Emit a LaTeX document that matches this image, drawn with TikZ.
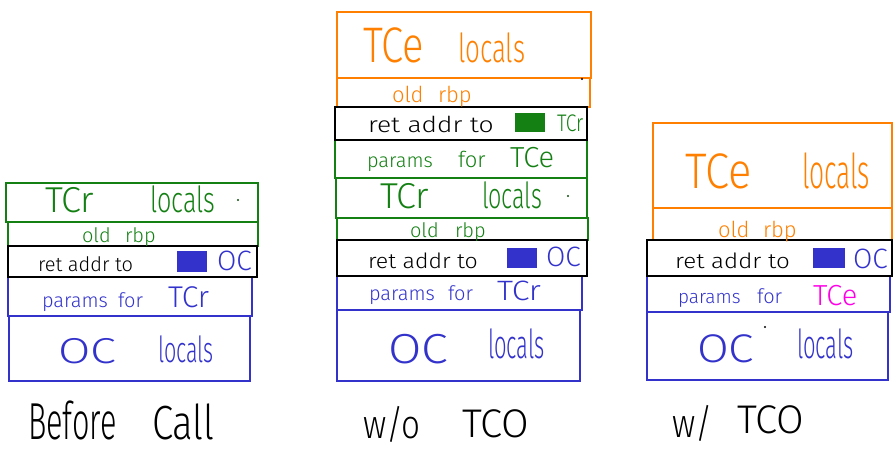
\documentclass[tikz,border=0pt]{standalone}
\usepackage{fontspec}
\IfFontExistsTF{Fira Sans Light}{\setmainfont{Fira Sans Light}}{\setmainfont{Fira Sans}}
\usetikzlibrary{fit}
\definecolor{grn}{RGB}{20,128,20}
\definecolor{blu}{RGB}{51,51,204}
\definecolor{org}{RGB}{255,128,0}
\definecolor{mag}{RGB}{255,0,230}
\newcommand{\hsz}[1]{\fontsize{#1}{#1}\selectfont}
\begin{document}
\begin{tikzpicture}[x=1pt,y=-1pt,
  box/.style={draw, line width=1.6pt, inner sep=0pt, outer sep=0pt, rectangle},
  wd/.style={inner sep=0pt, outer sep=0pt, anchor=base west},
  sq/.style={fill, rectangle, inner sep=0pt, outer sep=0pt},
  dotmark/.style={fill, circle, inner sep=0pt, minimum size=2.2pt}]
\useasboundingbox (0,0) rectangle (896,453);

% ---------- Stack 1: Before Call ----------
\node[box,draw=grn,fit={(6,183)(258,222)}] (a1) {};
\node[box,draw=grn,fit={(8,222)(258,246)}] (a2) {};
\node[box,draw=blu,fit={(8,277)(252,316)}] (a4) {};
\node[box,draw=blu,fit={(9,316)(250,381)}] (a5) {};
\node[box,draw=black,fit={(8,246)(257,277)}] (a3) {};

\node[wd,grn,font=\hsz{36}] (a1t1) at (45,212) {TCr};
\node[wd,grn,font=\hsz{36},xscale=0.7] (a1t2) at (150,212) {locals};
\node[dotmark,fill=grn!60!black] (a1d) at (238,200) {};
\node[wd,grn,font=\hsz{20}] (a2t1) at (82,242) {old};
\node[wd,grn,font=\hsz{20}] (a2t2) at (125,242) {rbp};
\node[wd,black,font=\hsz{20}] (a3t1) at (38,271) {ret addr to};
\node[sq,fill=blu,fit={(177,251)(207,272)}] (a3s) {};
\node[wd,blu,font=\hsz{28}] (a3t2) at (217,270) {OC};
\node[wd,blu,font=\hsz{20}] (a4t1) at (42,307) {params};
\node[wd,blu,font=\hsz{20}] (a4t2) at (118,307) {for};
\node[wd,blu,font=\hsz{30}] (a4t3) at (168,307) {TCr};
\node[wd,blu,font=\hsz{36},xscale=1.3] (a5t1) at (58,363) {OC};
\node[wd,blu,font=\hsz{36},xscale=0.6] (a5t2) at (158,362) {locals};

% ---------- Stack 2: w/o TCO ----------
\node[box,draw=org,fit={(337,12)(591,78)}] (b1) {};
\node[box,draw=org,fit={(337,78)(590,107)}] (b2) {};
\node[box,draw=grn,fit={(335,140)(587,178)}] (b4) {};
\node[box,draw=grn,fit={(336,178)(587,218)}] (b5) {};
\node[box,draw=grn,fit={(337,218)(588,240)}] (b6) {};
\node[box,draw=blu,fit={(337,276)(582,310)}] (b8) {};
\node[box,draw=blu,fit={(337,310)(580,381)}] (b9) {};
\node[box,draw=black,fit={(335,107)(587,140)}] (b3) {};
\node[box,draw=black,fit={(337,240)(587,276)}] (b7) {};

\node[wd,org,font=\hsz{50},xscale=0.8] (b1t1) at (363,62) {TCe};
\node[wd,org,font=\hsz{40},xscale=0.65] (b1t2) at (458,62) {locals};
\node[dotmark,fill=black] (b1d) at (582,79) {};
\node[wd,org,font=\hsz{22}] (b2t1) at (392,102) {old};
\node[wd,org,font=\hsz{22}] (b2t2) at (438,102) {rbp};
\node[wd,black,font=\hsz{22},xscale=1.2] (b3t1) at (368,132) {ret addr to};
\node[sq,fill=grn,fit={(515,113)(545,132)}] (b3s) {};
\node[wd,grn,font=\hsz{24},xscale=0.8] (b3t2) at (557,131) {TCr};
\node[wd,grn,font=\hsz{20}] (b4t1) at (367,167) {params};
\node[wd,grn,font=\hsz{22}] (b4t2) at (458,167) {for};
\node[wd,grn,font=\hsz{29}] (b4t3) at (510,167) {TCe};
\node[wd,grn,font=\hsz{36}] (b5t1) at (380,208) {TCr};
\node[wd,grn,font=\hsz{36},xscale=0.65] (b5t2) at (482,208) {locals};
\node[dotmark,fill=grn!60!black] (b5d) at (568,196) {};
\node[wd,grn,font=\hsz{20}] (b6t1) at (410,237) {old};
\node[wd,grn,font=\hsz{20}] (b6t2) at (455,237) {rbp};
\node[wd,black,font=\hsz{21},xscale=1.1] (b7t1) at (368,268) {ret addr to};
\node[sq,fill=blu,fit={(507,248)(537,268)}] (b7s) {};
\node[wd,blu,font=\hsz{28}] (b7t2) at (546,266) {OC};
\node[wd,blu,font=\hsz{20}] (b8t1) at (369,300) {params};
\node[wd,blu,font=\hsz{20}] (b8t2) at (448,300) {for};
\node[wd,blu,font=\hsz{28},xscale=1.15] (b8t3) at (497,300) {TCr};
\node[wd,blu,font=\hsz{42},xscale=1.15] (b9t1) at (388,363) {OC};
\node[wd,blu,font=\hsz{40},xscale=0.55] (b9t2) at (488,358) {locals};

% ---------- Stack 3: w/ TCO ----------
\node[box,draw=org,fit={(653,123)(892,208)}] (c1) {};
\node[box,draw=org,fit={(653,208)(892,240)}] (c2) {};
\node[box,draw=blu,fit={(647,276)(890,312)}] (c4) {};
\node[box,draw=blu,fit={(647,312)(888,380)}] (c5) {};
\node[box,draw=black,fit={(647,240)(892,276)}] (c3) {};

\node[wd,org,font=\hsz{50},xscale=0.87] (c1t1) at (685,188) {TCe};
\node[wd,org,font=\hsz{48},xscale=0.55] (c1t2) at (802,188) {locals};
\node[wd,org,font=\hsz{22}] (c2t1) at (718,237) {old};
\node[wd,org,font=\hsz{22}] (c2t2) at (763,237) {rbp};
\node[wd,black,font=\hsz{21},xscale=1.15] (c3t1) at (675,268) {ret addr to};
\node[sq,fill=blu,fit={(813,248)(845,268)}] (c3s) {};
\node[wd,blu,font=\hsz{28}] (c3t2) at (853,268) {OC};
\node[wd,blu,font=\hsz{19}] (c4t1) at (678,303) {params};
\node[wd,blu,font=\hsz{20}] (c4t2) at (757,303) {for};
\node[wd,mag,font=\hsz{29}] (c4t3) at (813,305) {TCe};
\node[dotmark,fill=black] (c5d) at (765,327) {};
\node[wd,blu,font=\hsz{40},xscale=1.15] (c5t1) at (697,362) {OC};
\node[wd,blu,font=\hsz{40},xscale=0.55] (c5t2) at (797,358) {locals};

% ---------- captions ----------
\node[wd,black,font=\hsz{52},xscale=0.59] (l1a) at (28,439) {Before};
\node[wd,black,font=\hsz{48},xscale=0.8] (l1b) at (152,439) {Call};
\node[wd,black,font=\hsz{40},xscale=0.83] (l2a) at (363,438) {w/o};
\node[wd,black,font=\hsz{40}] (l2b) at (462,437) {TCO};
\node[wd,black,font=\hsz{40},xscale=0.83] (l3a) at (672,437) {w/};
\node[wd,black,font=\hsz{40}] (l3b) at (737,433) {TCO};
\end{tikzpicture}
\end{document}
